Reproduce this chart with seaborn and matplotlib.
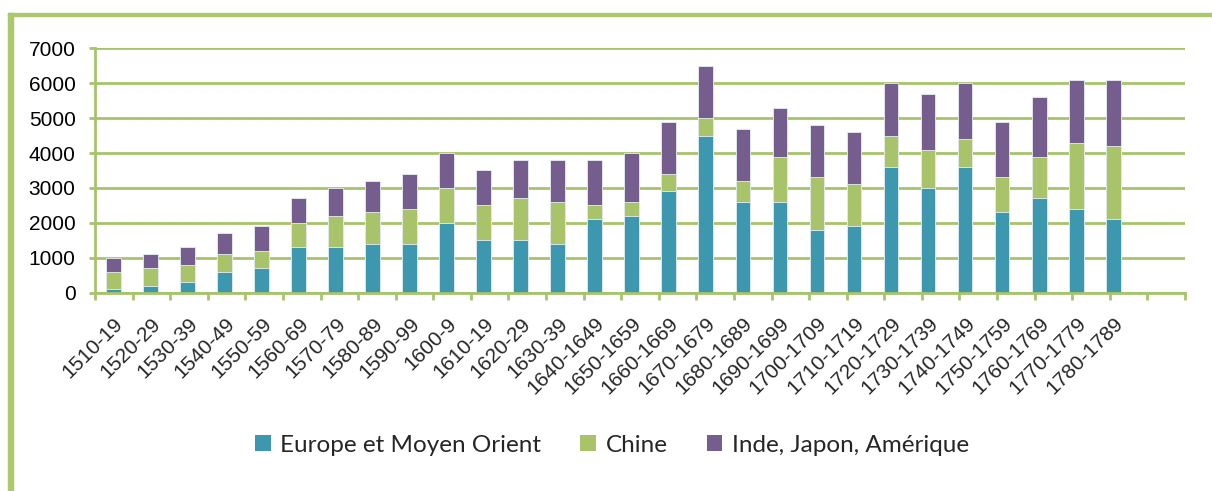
import numpy as np
import pandas as pd
import matplotlib
matplotlib.use('Agg')
import matplotlib.pyplot as plt
import seaborn as sns
from matplotlib.patches import Rectangle, Patch

# data
periods = ['1510-19', '1520-29', '1530-39', '1540-49', '1550-59', '1560-69',
           '1570-79', '1580-89', '1590-99', '1600-9', '1610-19', '1620-29',
           '1630-39', '1640-1649', '1650-1659', '1660-1669', '1670-1679',
           '1680-1689', '1690-1699', '1700-1709', '1710-1719', '1720-1729',
           '1730-1739', '1740-1749', '1750-1759', '1760-1769', '1770-1779',
           '1780-1789']
europe = [100, 200, 300, 600, 700, 1300, 1300, 1400, 1400, 2000, 1500, 1500,
          1400, 2100, 2200, 2900, 4500, 2600, 2600, 1800, 1900, 3600, 3000,
          3600, 2300, 2700, 2400, 2100]
chine = [500, 500, 500, 500, 500, 700, 900, 900, 1000, 1000, 1000, 1200,
         1200, 400, 400, 500, 500, 600, 1300, 1500, 1200, 900, 1100, 800,
         1000, 1200, 1900, 2100]
inde = [400, 400, 500, 600, 700, 700, 800, 900, 1000, 1000, 1000, 1100,
        1200, 1300, 1400, 1500, 1500, 1500, 1400, 1500, 1500, 1500, 1600,
        1600, 1600, 1700, 1800, 1900]
series = ['Europe et Moyen Orient', 'Chine', 'Inde, Japon, Amérique']
colors = ['#3D97AF', '#A8C36A', '#755E8E']
green = '#A6C46A'

df = pd.DataFrame({'period': periods, 'europe': europe, 'chine': chine, 'inde': inde})
df['lvl1'] = df['europe']
df['lvl2'] = df['lvl1'] + df['chine']
df['lvl3'] = df['lvl2'] + df['inde']

sns.set_style('white')
plt.rcParams['font.family'] = ['Liberation Sans', 'DejaVu Sans']

fig = plt.figure(figsize=(12.12, 4.91), dpi=100)
ax = fig.add_axes([0.0784, 0.4033, 0.8993, 0.4989])

# stacked bars: draw the cumulative heights, tallest first
for col, c in zip(['lvl3', 'lvl2', 'lvl1'], colors[::-1]):
    sns.barplot(data=df, x='period', y=col, color=c, width=0.4, ax=ax,
                saturation=1, edgecolor='#E6EEF2', linewidth=0.6)

# the category axis runs a bit past the last bar (empty slot on the right)
xmax = 28.94
ax.set_xlim(-0.5, xmax)
ax.set_ylim(0, 7000)
ax.set_yticks(np.arange(0, 7001, 1000))
ax.set_xlabel('')
ax.set_ylabel('')
ax.set_axisbelow(True)
ax.yaxis.grid(True, color=green, linewidth=2)
ax.xaxis.grid(False)

for side in ['top', 'right']:
    ax.spines[side].set_visible(False)
for side in ['left', 'bottom']:
    ax.spines[side].set_color(green)
    ax.spines[side].set_linewidth(2)

ax.tick_params(axis='y', labelsize=15, length=4, width=2, color=green,
               left=True, pad=10, labelcolor='black')
ax.set_xticks(range(len(periods)))
ax.set_xticklabels(periods, rotation=45, ha='right', rotation_mode='anchor',
                   fontsize=15)
ax.tick_params(axis='x', which='major', length=0, pad=15)
ax.set_xticks(np.linspace(-0.5, xmax, 30), minor=True)
ax.tick_params(axis='x', which='minor', length=5, width=2, color=green,
               bottom=True)

handles = [Patch(facecolor=c, edgecolor='none') for c in colors]
fig.legend(handles, series, loc='center', bbox_to_anchor=(0.505, 0.093),
           ncol=3, frameon=False, prop={'family': 'Lato', 'size': 17.5},
           handlelength=0.65, handleheight=0.65, handletextpad=0.4,
           columnspacing=1.6)

# green frame on the left and top of the figure
fig.add_artist(Rectangle((8 / 1212, 0), 5 / 1212, 1 - 13 / 491,
                         transform=fig.transFigure, color='#ABC86C'))
fig.add_artist(Rectangle((8 / 1212, 1 - 16 / 491), 1, 3 / 491,
                         transform=fig.transFigure, color='#ABC86C'))

fig.savefig('out.png', dpi=100)
